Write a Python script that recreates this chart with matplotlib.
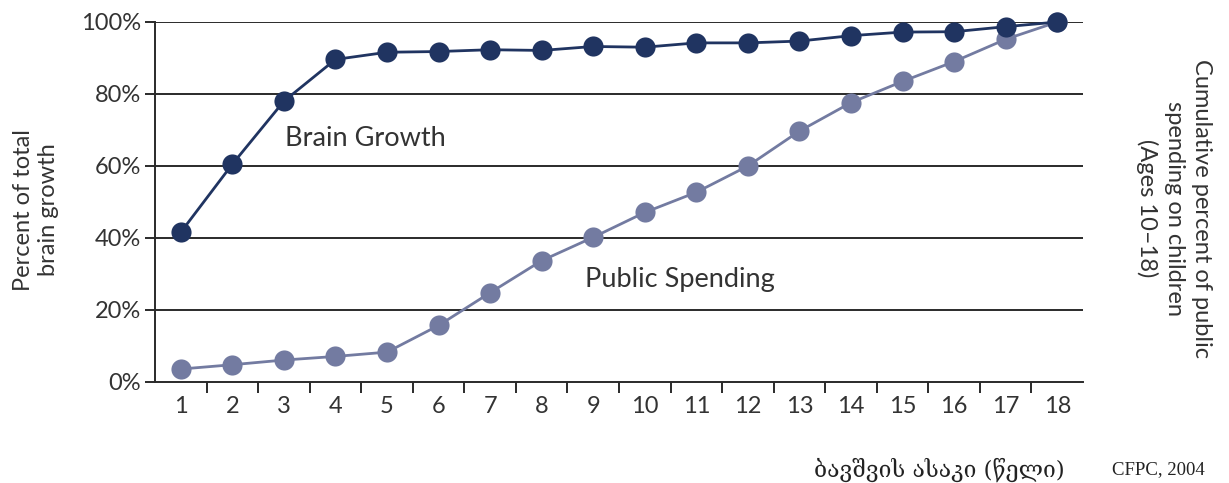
import matplotlib
matplotlib.use("Agg")
import matplotlib.pyplot as plt
from matplotlib.ticker import FixedLocator, NullFormatter

ages = list(range(1, 19))
age_labels = [str(a) for a in ages]
brain_growth = [41.6, 60.5, 78.0, 89.6, 91.6, 91.8, 92.3, 92.1, 93.2, 93.0,
                94.2, 94.2, 94.7, 96.2, 97.2, 97.3, 98.7, 100.0]
public_spending = [3.6, 4.8, 6.1, 7.1, 8.3, 15.7, 24.8, 33.7, 40.2, 47.1,
                   52.7, 60.0, 69.7, 77.6, 83.5, 89.0, 95.2, 100.0]
y_ticks = [0, 20, 40, 60, 80, 100]
y_tick_labels = ["0%", "20%", "40%", "60%", "80%", "100%"]

TXT = "#333333"
NAVY = "#203461"
LAV = "#737ba1"
SANS = ["Lato", "DejaVu Sans"]

fig = plt.figure(figsize=(12.29, 4.83), dpi=100)
ax = fig.add_axes([155 / 1229, 1 - 382 / 483, (1083 - 155) / 1229, (382 - 22) / 483])

ax.set_xlim(0.5, 18.5)
ax.set_ylim(0, 100)

for yv in y_ticks[1:]:
    ax.axhline(yv, color="#2a2a2a", lw=1.4, zorder=1)

ax.plot(ages, public_spending, color=LAV, lw=2.0, marker="o", ms=14.5,
        markeredgewidth=0, zorder=3, clip_on=False)
ax.plot(ages, brain_growth, color=NAVY, lw=2.0, marker="o", ms=14.5,
        markeredgewidth=0, zorder=4, clip_on=False)

for s in ["top", "right"]:
    ax.spines[s].set_visible(False)
for s in ["left", "bottom"]:
    ax.spines[s].set_color("#2a2a2a")
    ax.spines[s].set_linewidth(1.4)

ax.set_yticks(y_ticks)
ax.set_yticklabels(y_tick_labels, fontsize=17, color=TXT, family=SANS)
ax.tick_params(axis="y", length=7, width=1.4, color="#2a2a2a", pad=3)

ax.set_xticks(ages)
ax.set_xticklabels(age_labels, fontsize=17, color=TXT, family=SANS)
ax.tick_params(axis="x", which="major", length=0, pad=10)
ax.xaxis.set_minor_locator(FixedLocator([a + 0.5 for a in ages[:-1]]))
ax.xaxis.set_minor_formatter(NullFormatter())
ax.tick_params(axis="x", which="minor", length=8, width=1.4, color="#2a2a2a")

ax.text(3.02, 67.5, "Brain Growth", fontsize=19.5, color=TXT, family=SANS,
        va="center", ha="left")
ax.text(8.85, 28.5, "Public Spending", fontsize=19.5, color=TXT, family=SANS,
        va="center", ha="left")

fig.text(36 / 1229, 1 - 210 / 483, "Percent of total\nbrain growth", rotation=90,
         fontsize=17, color=TXT, family=SANS, ha="center", va="center",
         linespacing=1.2, multialignment="center")
fig.text(1174 / 1229, 1 - 208 / 483,
         "Cumulative percent of public\nspending on children\n(Ages 10\u201318)",
         rotation=270, fontsize=17, color=TXT, family=SANS, ha="center",
         va="center", linespacing=1.35, multialignment="center")

fig.text(1065 / 1229, 1 - 470 / 483, "ბავშვის ასაკი (წელი)", fontsize=16.5,
         color="#222222", family=["DejaVu Serif", "DejaVu Sans"], ha="right", va="center")
fig.text(1205 / 1229, 1 - 470 / 483, "CFPC, 2004", fontsize=13.5,
         color="#222222", family=["Liberation Serif", "DejaVu Serif"], ha="right", va="center")

fig.savefig("out.png", dpi=100)
